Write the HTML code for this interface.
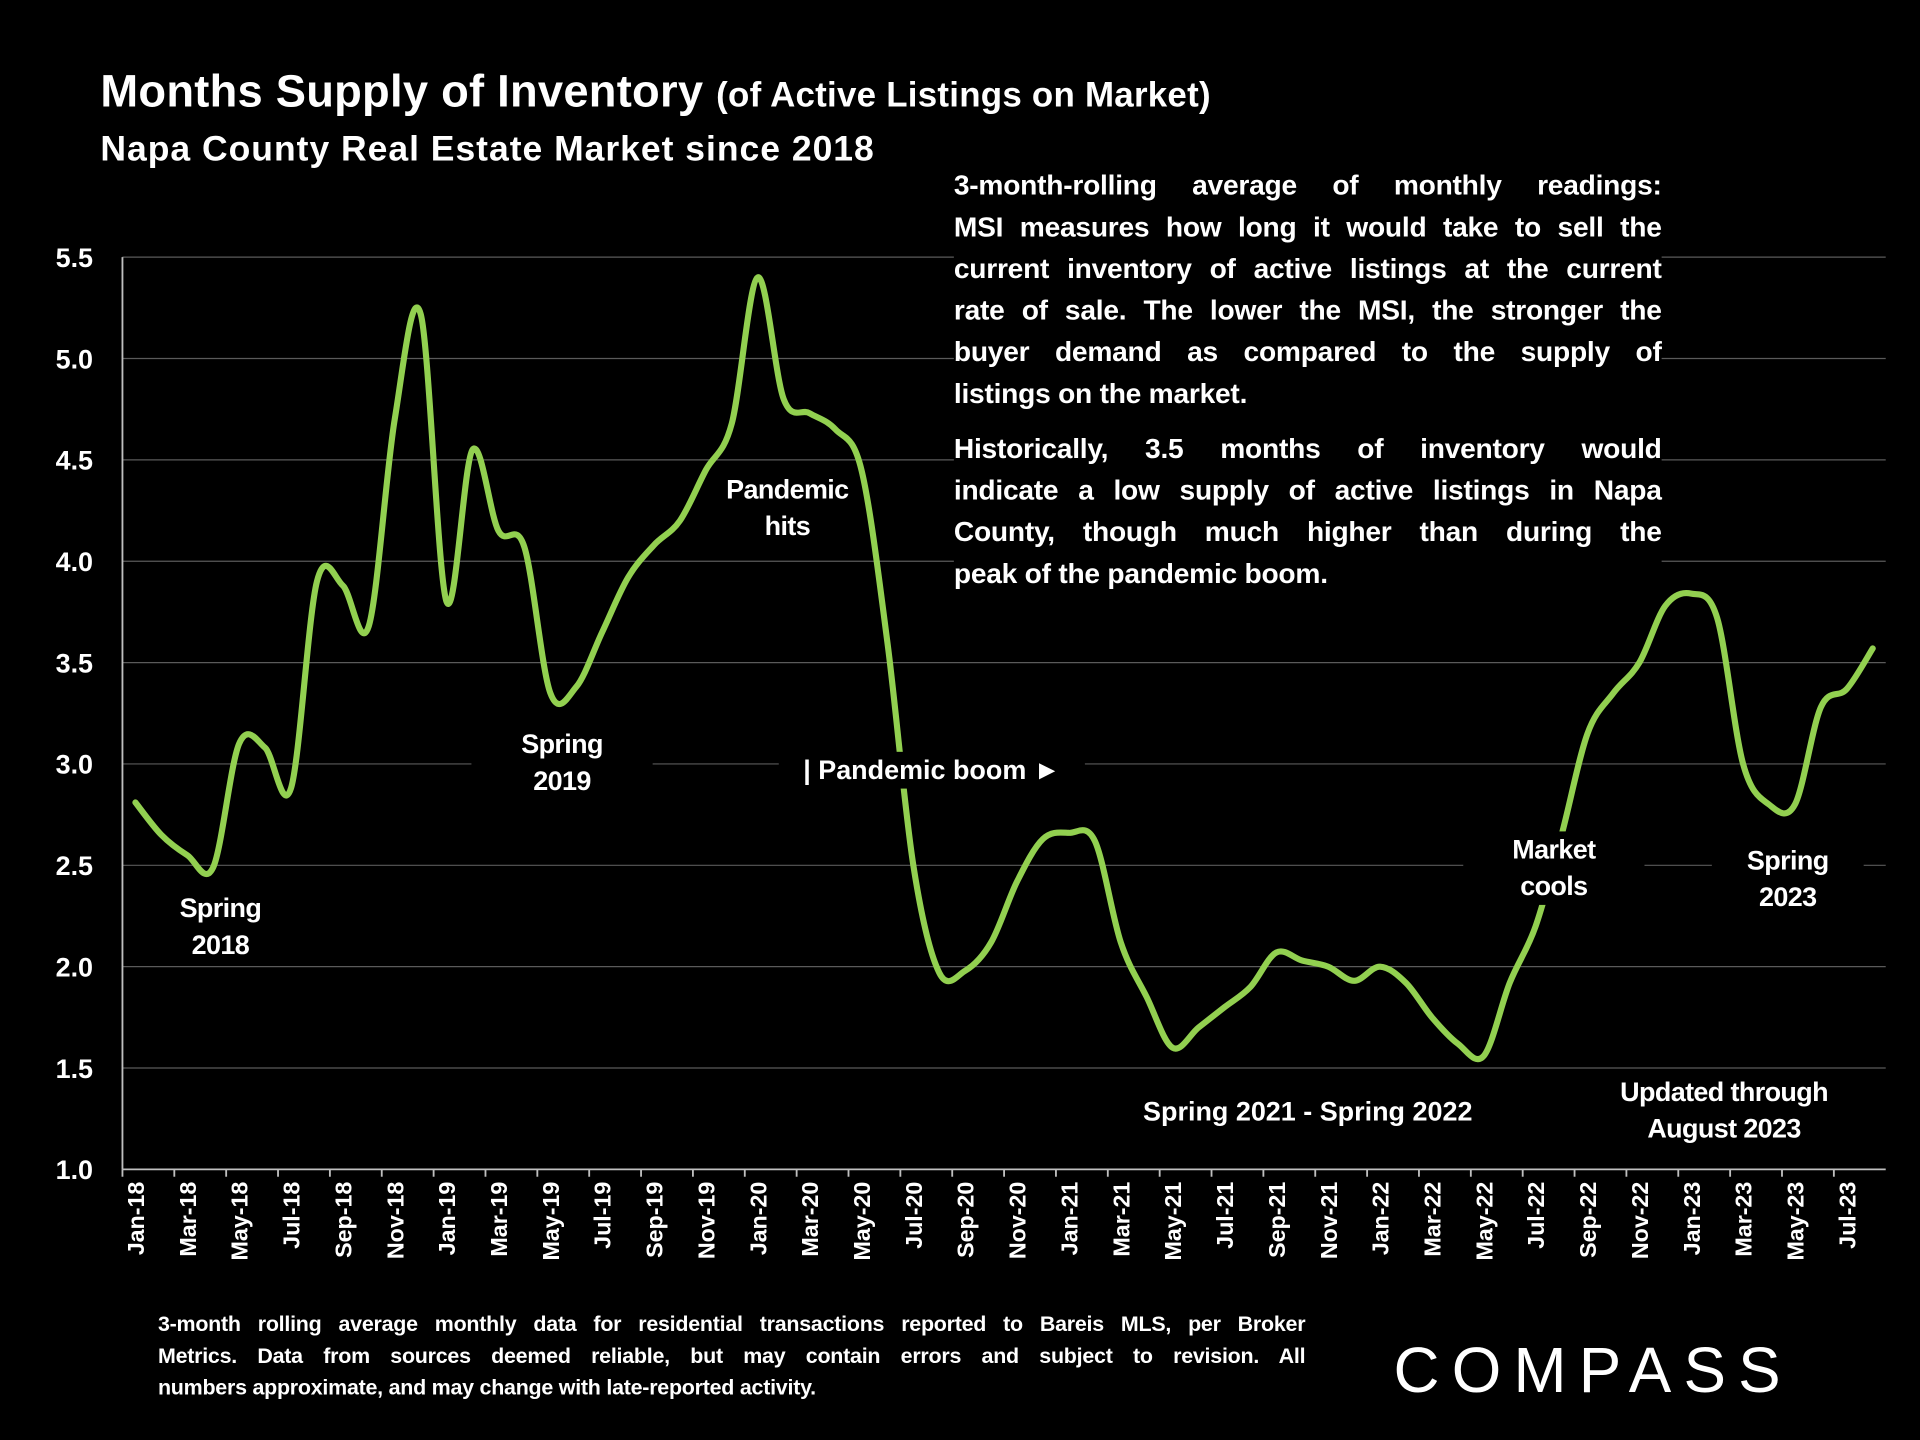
<!DOCTYPE html>
<html><head><meta charset="utf-8"><style>
html,body{margin:0;padding:0;background:#000;width:1920px;height:1440px;overflow:hidden}
#wrap{position:absolute;left:0;top:0;width:1568px;height:1176px;transform:scale(1.22449);transform-origin:0 0;font-family:"Liberation Sans",sans-serif;color:#fff;font-weight:bold}
.t{position:absolute;white-space:nowrap}
.lbl{position:absolute;background:#000;text-align:center;font-size:22px;line-height:30px;letter-spacing:-0.5px}
#para{position:absolute;left:779px;top:134px;width:578px;font-size:23px;line-height:34px;background:#000;letter-spacing:-0.2px}
#para div,#foot div{text-align:justify;text-align-last:justify;white-space:nowrap}
#para div.l,#foot div.l{text-align-last:left}
#para .gap{height:11px}
#foot{position:absolute;left:129px;top:1068px;width:937px;font-size:17.5px;line-height:26px;letter-spacing:-0.2px}
</style></head><body>
<div id="wrap">
<svg id="chart" width="1568" height="1176" style="position:absolute;left:0;top:0"></svg>
<div class="t" style="left:82px;top:54px;font-size:37px;letter-spacing:0.2px">Months Supply of Inventory <span style="font-size:28.5px">(of Active Listings on Market)</span></div>
<div class="t" style="left:82px;top:106px;font-size:29px;letter-spacing:0.8px">Napa County Real Estate Market since 2018</div>
<div id="para">
<div>3-month-rolling average of monthly readings:</div>
<div>MSI measures how long it would take to sell the</div>
<div>current inventory of active listings at the current</div>
<div>rate of sale. The lower the MSI, the stronger the</div>
<div>buyer demand as compared to the supply of</div>
<div class="l">listings on the market.</div>
<div class="gap"></div>
<div>Historically, 3.5 months of inventory would</div>
<div>indicate a low supply of active listings in Napa</div>
<div>County, though much higher than during the</div>
<div class="l">peak of the pandemic boom.</div>
</div>
<div class="lbl" style="left:130px;top:727px;width:100px">Spring<br>2018</div>
<div class="lbl" style="left:385px;top:593px;width:148px">Spring<br>2019</div>
<div class="lbl" style="left:588px;top:385px;width:110px">Pandemic<br>hits</div>
<div class="lbl" style="left:636px;top:614px;width:250px;letter-spacing:0">| Pandemic boom ►</div>
<div class="lbl" style="left:1195px;top:679px;width:148px">Market<br>cools</div>
<div class="lbl" style="left:1398px;top:688px;width:124px">Spring<br>2023</div>
<div class="lbl" style="left:918px;top:893px;width:300px;letter-spacing:0">Spring 2021 - Spring 2022</div>
<div class="lbl" style="left:1282px;top:877px;width:252px">Updated through<br>August 2023</div>
<div id="foot">
<div>3-month rolling average monthly data for residential transactions reported to Bareis MLS, per Broker</div>
<div>Metrics. Data from sources deemed reliable, but may contain errors and subject to revision. All</div>
<div class="l">numbers approximate, and may change with late-reported activity.</div>
</div>
<div class="t" style="left:1138px;top:1090px;font-size:52px;font-weight:normal;letter-spacing:10px">COMPASS</div>
</div>
<script>
const categories=["Jan-18","Feb-18","Mar-18","Apr-18","May-18","Jun-18","Jul-18","Aug-18","Sep-18","Oct-18","Nov-18","Dec-18","Jan-19","Feb-19","Mar-19","Apr-19","May-19","Jun-19","Jul-19","Aug-19","Sep-19","Oct-19","Nov-19","Dec-19","Jan-20","Feb-20","Mar-20","Apr-20","May-20","Jun-20","Jul-20","Aug-20","Sep-20","Oct-20","Nov-20","Dec-20","Jan-21","Feb-21","Mar-21","Apr-21","May-21","Jun-21","Jul-21","Aug-21","Sep-21","Oct-21","Nov-21","Dec-21","Jan-22","Feb-22","Mar-22","Apr-22","May-22","Jun-22","Jul-22","Aug-22","Sep-22","Oct-22","Nov-22","Dec-22","Jan-23","Feb-23","Mar-23","Apr-23","May-23","Jun-23","Jul-23","Aug-23"];
const msi=[2.81,2.65,2.55,2.49,3.1,3.08,2.88,3.9,3.88,3.68,4.7,5.22,3.8,4.55,4.15,4.07,3.35,3.38,3.65,3.92,4.08,4.2,4.45,4.68,5.4,4.8,4.73,4.65,4.45,3.6,2.5,1.97,1.98,2.12,2.42,2.63,2.66,2.62,2.12,1.85,1.6,1.7,1.8,1.9,2.07,2.03,2.0,1.93,2.0,1.92,1.75,1.62,1.56,1.92,2.2,2.65,3.15,3.35,3.5,3.78,3.84,3.72,3.0,2.8,2.8,3.28,3.37,3.57];
const yTicks=[1.0,1.5,2.0,2.5,3.0,3.5,4.0,4.5,5.0,5.5];
const svg=document.getElementById('chart');const NS='http://www.w3.org/2000/svg';
const X0=100,X1=1540,Y0=955,Y1=210,VMIN=1,VMAX=5.5;
const step=(X1-X0)/categories.length;
function xs(i){return X0+step*(i+0.5);}
function ys(v){return Y0-(v-VMIN)/(VMAX-VMIN)*(Y0-Y1);}
function mk(t,a){const e=document.createElementNS(NS,t);for(const k in a)e.setAttribute(k,a[k]);svg.appendChild(e);return e;}
yTicks.forEach(v=>{
 if(v>VMIN){const g=mk('line',{x1:X0,x2:X1,y1:ys(v),y2:ys(v),stroke:'#5a5a5a','stroke-width':1});
 
 }
 const t=mk('text',{x:76,y:ys(v)+8,'text-anchor':'end',fill:'#fff','font-size':22,'font-weight':'bold','font-family':'Liberation Sans, sans-serif'});
 t.textContent=v.toFixed(1);
 
 
});
const ax=mk('line',{x1:X0,x2:X1,y1:Y0,y2:Y0,stroke:'#bfbfbf','stroke-width':1.5});


const ay=mk('line',{x1:X0,x2:X0,y1:Y1,y2:Y0,stroke:'#bfbfbf','stroke-width':1.5});


categories.forEach((c,i)=>{
 if(i%2===0){const tk=mk('line',{x1:X0+step*i,x2:X0+step*i,y1:Y0,y2:Y0+6,stroke:'#bfbfbf','stroke-width':1.5});
 
 
 const x=xs(i)+7,y=965;
 const t=mk('text',{x:x,y:y,transform:`rotate(-90 ${x} ${y})`,'text-anchor':'end',fill:'#fff','font-size':19,'font-weight':'bold','font-family':'Liberation Sans, sans-serif'});
 t.textContent=c;
 
 }
});
const P=msi.map((v,i)=>[xs(i),ys(v)]);
let d=`M${P[0][0]},${P[0][1]}`;
for(let i=0;i<P.length-1;i++){const p0=P[Math.max(0,i-1)],p1=P[i],p2=P[i+1],p3=P[Math.min(P.length-1,i+2)];
 const c1=[p1[0]+(p2[0]-p0[0])/6,p1[1]+(p2[1]-p0[1])/6],c2=[p2[0]-(p3[0]-p1[0])/6,p2[1]-(p3[1]-p1[1])/6];
 d+=` C${c1[0]},${c1[1]} ${c2[0]},${c2[1]} ${p2[0]},${p2[1]}`;}
const ln=mk('path',{d:d,fill:'none',stroke:'#92d050','stroke-width':5,'stroke-linejoin':'round','stroke-linecap':'round'});


</script>
</body></html>
